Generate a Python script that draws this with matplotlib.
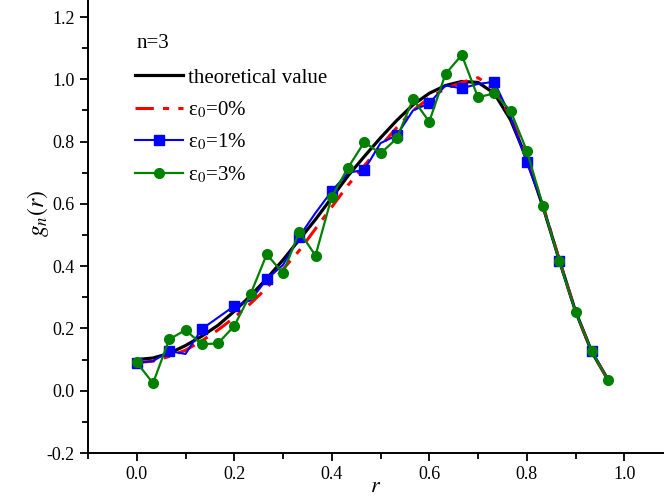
import numpy as np
import matplotlib
matplotlib.use('Agg')
import matplotlib.pyplot as plt
from matplotlib.ticker import MultipleLocator

plt.rcParams['font.family'] = ['Liberation Serif', 'DejaVu Serif']
plt.rcParams['mathtext.fontset'] = 'stix'

# sample positions r = k/30
r = np.arange(30) / 30.0

g_theory = [0.100, 0.105, 0.120, 0.145, 0.175, 0.210, 0.255, 0.305, 0.360, 0.420,
            0.485, 0.550, 0.620, 0.690, 0.752, 0.812, 0.868, 0.918, 0.955, 0.980,
            0.993, 0.990, 0.955, 0.870, 0.745, 0.590, 0.420, 0.255, 0.125, 0.035]

g_eps0 = [0.090, 0.095, 0.110, 0.130, 0.160, 0.195, 0.235, 0.280, 0.330, 0.390,
          0.450, 0.520, 0.590, 0.660, 0.722, 0.785, 0.845, 0.900, 0.940, 0.970,
          0.990, 1.005, 0.970, 0.880, 0.750, 0.595, 0.420, 0.255, 0.125, 0.035]

g_eps1 = [0.090, 0.095, 0.127, 0.118, 0.198, 0.235, 0.272, 0.290, 0.358, 0.404,
          0.495, 0.571, 0.641, 0.700, 0.709, 0.795, 0.820, 0.900, 0.923, 0.980,
          0.971, 0.985, 0.992, 0.880, 0.733, 0.595, 0.415, 0.255, 0.127, 0.035]

g_eps3 = [0.091, 0.024, 0.165, 0.195, 0.149, 0.152, 0.208, 0.310, 0.438, 0.377,
          0.511, 0.434, 0.623, 0.716, 0.798, 0.762, 0.810, 0.936, 0.864, 1.017,
          1.078, 0.942, 0.955, 0.899, 0.771, 0.593, 0.417, 0.254, 0.127, 0.034]


fig = plt.figure(figsize=(6.64, 5.0), dpi=100)
ax = fig.add_axes([88/664., 47/500., 576/664., 453/500.])

ax.plot(r, g_theory, 'k-', lw=2.3, label='theoretical value')
ax.plot(r, g_eps0, color='red', ls='-.', lw=2.2, dashes=(6, 3, 2, 3),
        label=u'\u03b5$_0$=0%')
ax.plot(r, g_eps1, color='blue', ls='-', lw=1.5, marker='s', markersize=7,
        markevery=2, label=u'\u03b5$_0$=1%')
ax.plot(r, g_eps3, color='green', ls='-', lw=1.6, marker='o', markersize=7,
        label=u'\u03b5$_0$=3%')

ax.set_xlim(-0.1, 1.0815)
ax.set_ylim(-0.2, 1.2546)
ax.xaxis.set_minor_locator(MultipleLocator(0.1))
ax.yaxis.set_minor_locator(MultipleLocator(0.1))
ax.set_xticks([0.0, 0.2, 0.4, 0.6, 0.8, 1.0])
ax.set_yticks([-0.2, 0.0, 0.2, 0.4, 0.6, 0.8, 1.0, 1.2])
ax.set_xticklabels(['%.1f' % v for v in ax.get_xticks()])
ax.set_yticklabels(['%.1f' % v for v in ax.get_yticks()])
ax.tick_params(which='major', direction='out', length=6, width=1.3, labelsize=13)
ax.tick_params(which='minor', direction='out', length=4, width=1.3)

for s in ['top', 'right']:
    ax.spines[s].set_visible(False)
for s in ['left', 'bottom']:
    ax.spines[s].set_linewidth(1.4)

ax.set_xlabel(r'$r$', fontsize=16, labelpad=-4)
fig.text(38/664., 1 - 214/500., r'$g_n(r)$', rotation=90, fontsize=17,
         ha='center', va='center')

ax.text(0.0, 1.115, 'n=3', fontsize=15, va='center', ha='left')

ax.legend(loc='upper left', bbox_to_anchor=(135/664., 1 - 68/500.),
          bbox_transform=fig.transFigure, frameon=False, fontsize=15,
          handlelength=2.3, handletextpad=0.25, borderpad=0, borderaxespad=0,
          labelspacing=0.57)

fig.savefig('out.png', dpi=100)
